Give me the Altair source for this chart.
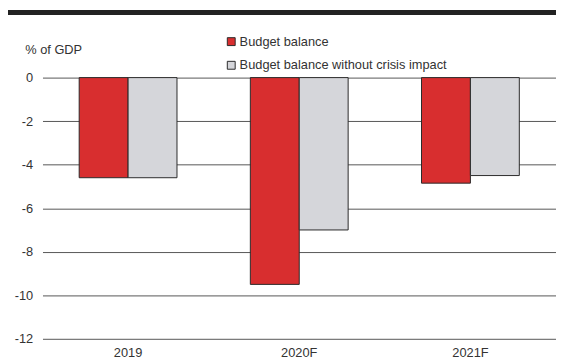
import altair as alt
import pandas as pd

years = ["2019", "2020F", "2021F"]
series = ["Budget balance", "Budget balance without crisis impact"]
budget_balance = [-4.6, -9.5, -4.85]
without_crisis = [-4.6, -7.0, -4.5]
y_ticks = [0, -2, -4, -6, -8, -10, -12]
colors = ["#D82E2F", "#D5D6DA"]

rows = []
for i, yr in enumerate(years):
    rows.append({"year": yr, "series": series[0], "value": budget_balance[i]})
    rows.append({"year": yr, "series": series[1], "value": without_crisis[i]})
df = pd.DataFrame(rows)

W, H = 521, 265
FONT = "Liberation Sans"

bars = alt.Chart(df).mark_bar(stroke="#2a2a2a", strokeWidth=1).encode(
    x=alt.X("year:N", sort=years,
            scale=alt.Scale(paddingInner=0, paddingOuter=0),
            axis=alt.Axis(title=None, labelAngle=0, ticks=False, domain=False,
                          labelPadding=8, labelFontSize=13, labelColor="#333",
                          labelFont=FONT)),
    xOffset=alt.XOffset("series:N", sort=series,
                        scale=alt.Scale(paddingInner=0, paddingOuter=0.75)),
    y=alt.Y("value:Q", scale=alt.Scale(domain=[-12, 0], nice=False),
            axis=alt.Axis(values=y_ticks, title="% of GDP", titleAngle=0,
                          titleAlign="left", titleX=-18, titleY=-28,
                          titleBaseline="middle",
                          titleFont=FONT, titleFontSize=13,
                          titleFontWeight="normal", titleColor="#333",
                          labelExpr="'' + datum.value",
                          domain=False, ticks=False, grid=True,
                          gridColor="#555", gridWidth=1, gridOpacity=1,
                          labelPadding=10, labelFontSize=13, labelColor="#333",
                          labelFont=FONT)),
    color=alt.Color("series:N", sort=series,
                    scale=alt.Scale(domain=series, range=colors),
                    legend=alt.Legend(title=None, orient="none",
                                      legendX=185, legendY=-43,
                                      symbolType="square", symbolSize=64,
                                      symbolStrokeColor="#2a2a2a",
                                      symbolStrokeWidth=1,
                                      symbolOpacity=1,
                                      labelFont=FONT, labelLimit=400,
                                      labelFontSize=13, labelColor="#333",
                                      labelOffset=2, rowPadding=10)),
)

topbar = alt.Chart(pd.DataFrame({"a": [0]})).mark_rule(
    color="#222", strokeWidth=5
).encode(x=alt.value(-35), x2=alt.value(W), y=alt.value(-66))

chart = alt.layer(bars, topbar).properties(
    width=W, height=H,
    autosize=alt.AutoSizeParams(type="none"),
    padding={"left": 35, "top": 68, "right": 0, "bottom": 26},
).configure_view(stroke=None)

chart.save("out.html", embed_options={"renderer": "svg", "actions": False})
